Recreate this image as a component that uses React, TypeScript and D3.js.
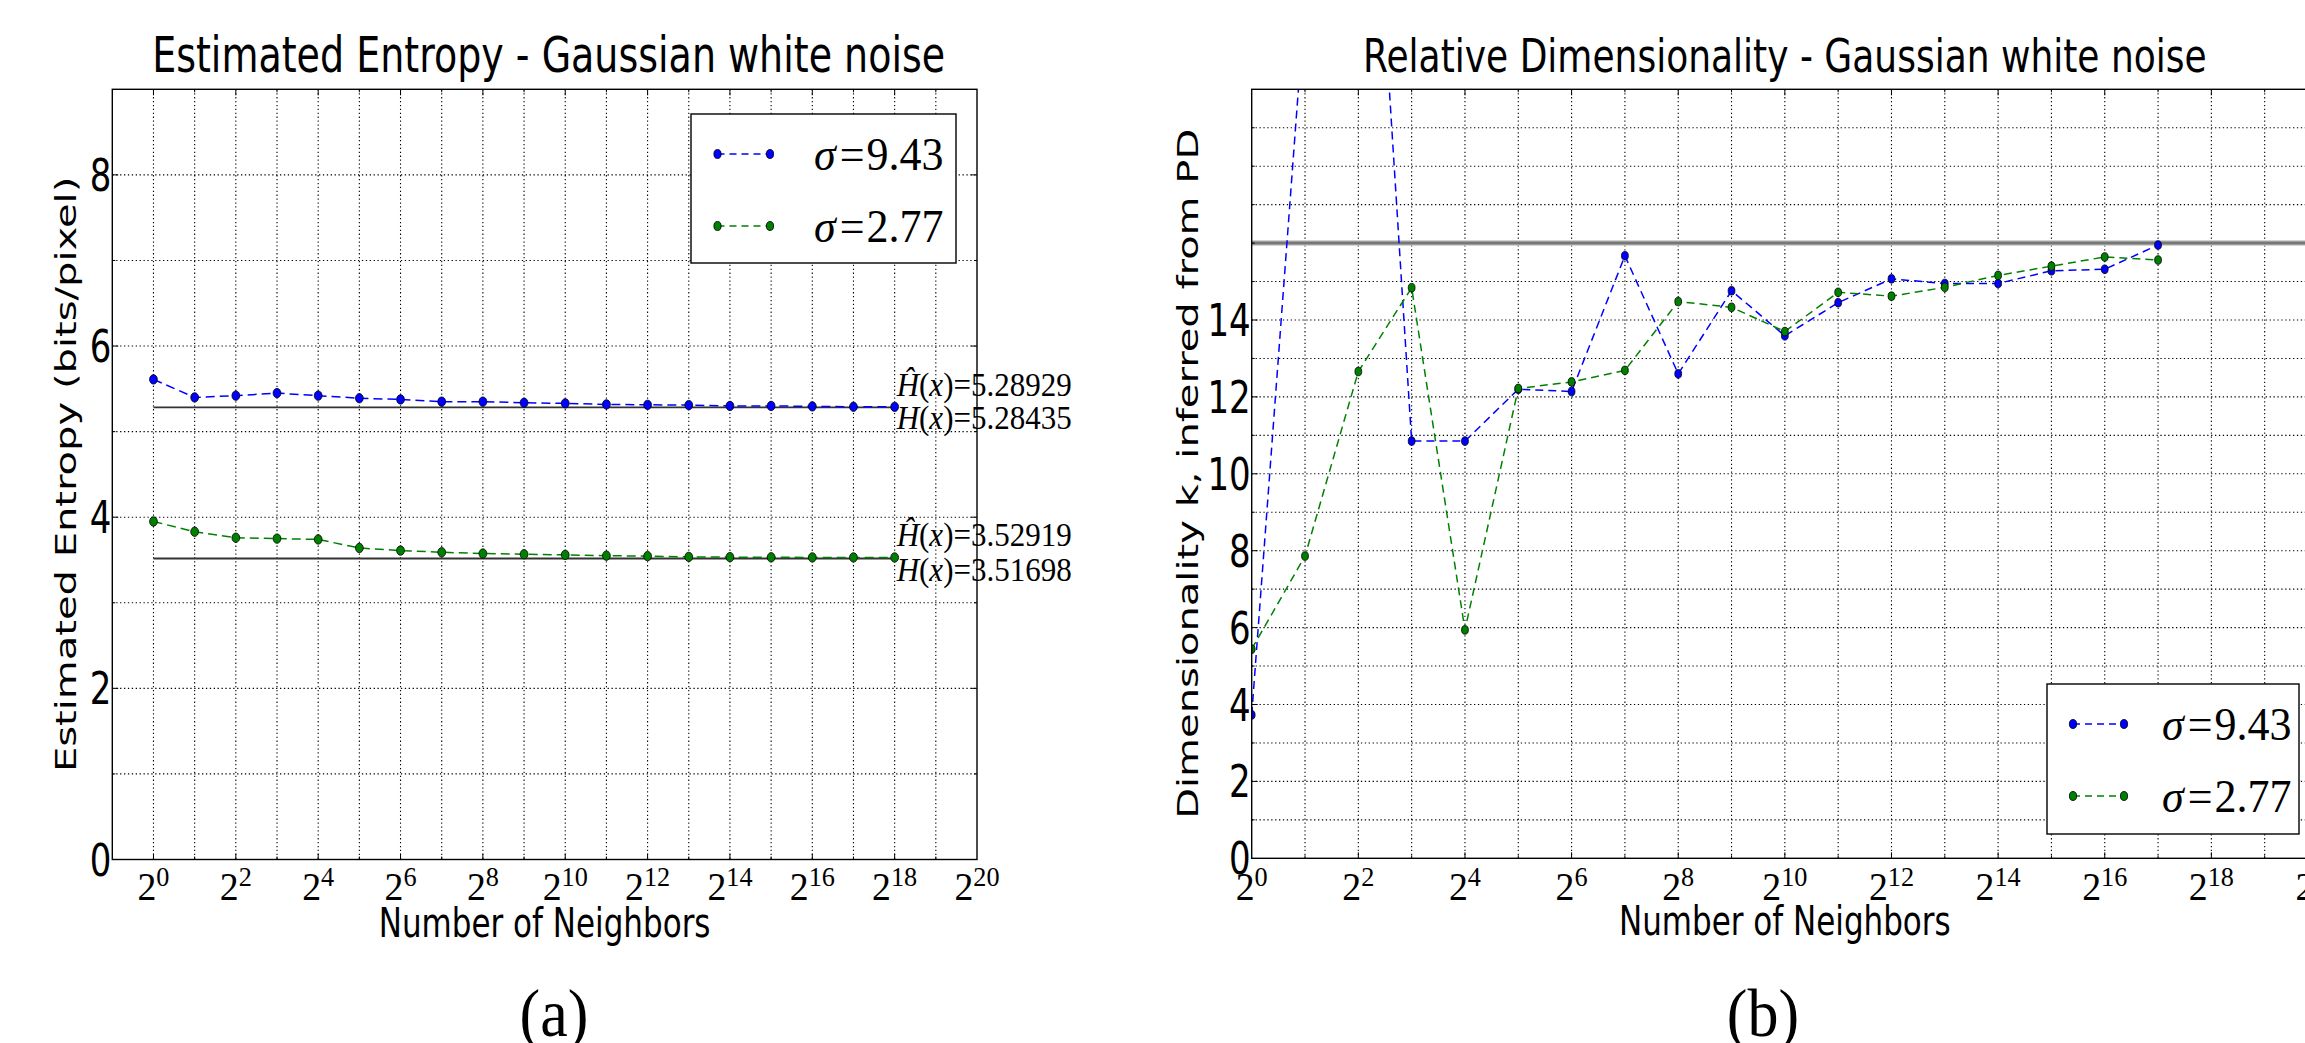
import React from "react";
import * as d3 from "d3";

// ---- data
const NEIGHBORS = [1, 2, 4, 8, 16, 32, 64, 128, 256, 512, 1024, 2048, 4096, 8192, 16384, 32768, 65536, 131072, 262144];

// (a) estimated entropy, bits/pixel
const ENTROPY_943 = [5.61, 5.4, 5.42, 5.45, 5.42, 5.39, 5.376, 5.35, 5.35, 5.337, 5.33, 5.318, 5.313, 5.31, 5.3, 5.3, 5.295, 5.29, 5.28929];
const ENTROPY_277 = [3.95, 3.83, 3.76, 3.75, 3.74, 3.64, 3.61, 3.59, 3.575, 3.567, 3.56, 3.55, 3.545, 3.536, 3.533, 3.531, 3.53, 3.53, 3.52919];
const H_HAT = [5.28929, 3.52919];
const H_TRUE = [5.28435, 3.51698];

// (b) relative dimensionality (first 18 neighbor counts)
const DIM_943 = [3.73, 22.3, 32.7, 10.85, 10.85, 12.2, 12.14, 15.67, 12.6, 14.76, 13.59, 14.45, 15.07, 14.95, 14.95, 15.28, 15.32, 15.95];
const DIM_277 = [5.44, 7.86, 12.66, 14.84, 5.94, 12.22, 12.39, 12.69, 14.48, 14.33, 13.7, 14.72, 14.62, 14.85, 15.16, 15.4, 15.64, 15.56];
const TRUE_DIM = 16;

const SIGMAS = ["9.43", "2.77"];
const COLORS = ["#0000ff", "#008000"];

const X_TICK_EXP = [0, 2, 4, 6, 8, 10, 12, 14, 16, 18, 20];
const Y_TICKS_A = [0, 2, 4, 6, 8];
const Y_TICKS_B = [0, 2, 4, 6, 8, 10, 12, 14];

// ---- look
const K = 1.3; // the original figure is stretched vertically
const SANS = "DejaVu Sans";
const SERIF = "Liberation Serif";

const T = ({ x, y, size, family = SANS, anchor = "start", k = K, sx = 1, rotate = false, children }: any) => (
  <text
    transform={`translate(${x},${y}) scale(${sx},${k})${rotate ? " rotate(-90)" : ""}`}
    fontFamily={family}
    fontSize={size}
    textAnchor={anchor}
    fill="#000"
  >
    {children}
  </text>
);

const Pow2 = ({ x, y, e }: any) => (
  <T x={x} y={y} size={36} family={SERIF} anchor="middle" k={1.1} sx={1.05}>
    2<tspan fontSize={25} dy={-13}>{e}</tspan>
  </T>
);

const Marker = ({ cx, cy, color, rx = 3.6, ry = 4.5 }: any) => (
  <ellipse cx={cx} cy={cy} rx={rx} ry={ry} fill={color} stroke="#000" strokeWidth={0.8} />
);

function Axes({ box, x, y, xExp, yVals, yLabels, id, children }: any) {
  const gx = xExp.filter((e: number) => x(2 ** e) > box.x0 + 1 && x(2 ** e) < box.x1 - 1);
  const gy = yVals.filter((v: number) => y(v) < box.y1 - 1 && y(v) > box.y0 + 1);
  return (
    <g>
      <defs>
        <clipPath id={id}>
          <rect x={box.x0} y={box.y0} width={box.x1 - box.x0} height={box.y1 - box.y0} />
        </clipPath>
      </defs>
      {/* grid */}
      <g stroke="#000" strokeWidth={1.1} strokeDasharray="1.3,2.6">
        {gx.map((e: number) => (
          <line key={"gx" + e} x1={x(2 ** e)} x2={x(2 ** e)} y1={box.y0} y2={box.y1} />
        ))}
        {gy.map((v: number) => (
          <line key={"gy" + v} x1={box.x0} x2={box.x1} y1={y(v)} y2={y(v)} />
        ))}
      </g>
      <g clipPath={`url(#${id})`}>{children}</g>
      {/* ticks */}
      <g stroke="#000" strokeWidth={1}>
        {gx.map((e: number) => {
          const L = e % 2 === 0 ? 6 : 3;
          const px = x(2 ** e);
          return (
            <g key={"tx" + e}>
              <line x1={px} x2={px} y1={box.y1} y2={box.y1 - L} />
              <line x1={px} x2={px} y1={box.y0} y2={box.y0 + L} />
            </g>
          );
        })}
        {gy.map((v: number) => {
          const L = yLabels.includes(v) ? 6 : 3;
          return (
            <g key={"ty" + v}>
              <line x1={box.x0} x2={box.x0 + L} y1={y(v)} y2={y(v)} />
              <line x1={box.x1} x2={box.x1 - L} y1={y(v)} y2={y(v)} />
            </g>
          );
        })}
      </g>
      <rect x={box.x0} y={box.y0} width={box.x1 - box.x0} height={box.y1 - box.y0} fill="none" stroke="#000" strokeWidth={1.4} />
      {/* tick labels */}
      {yLabels.map((v: number) => (
        <T key={"ly" + v} x={box.x0 - 1} y={y(v) + 16} size={34} anchor="end">
          {v}
        </T>
      ))}
      {X_TICK_EXP.map((e) => (
        <Pow2 key={"lx" + e} x={x(2 ** e)} y={900} e={e} />
      ))}
    </g>
  );
}

function Series({ x, y, xs, vals, color, dash, rx, ry }: any) {
  const pts = vals.map((v: number, i: number) => [x(xs[i]), y(v)]);
  const line = d3.line();
  return (
    <g>
      <path d={line(pts) || ""} fill="none" stroke={color} strokeWidth={1.5} strokeDasharray={dash} />
      {pts.map((p: number[], i: number) => (
        <Marker key={i} cx={p[0]} cy={p[1]} color={color} rx={rx} ry={ry} />
      ))}
    </g>
  );
}

function Legend({ x0, y0, w, h, mx1, mx2, rows, tx, tdy, dash }: any) {
  return (
    <g>
      <rect x={x0} y={y0} width={w} height={h} fill="#fff" stroke="#000" strokeWidth={1.4} />
      {SIGMAS.map((s, i) => (
        <g key={s}>
          <line x1={mx1} x2={mx2} y1={rows[i]} y2={rows[i]} stroke={COLORS[i]} strokeWidth={1.5} strokeDasharray={dash} />
          <Marker cx={mx1} cy={rows[i]} color={COLORS[i]} />
          <Marker cx={mx2} cy={rows[i]} color={COLORS[i]} />
          <T x={tx} y={rows[i] + tdy} size={44} family={SERIF} k={1.05}>
            <tspan fontStyle="italic">σ</tspan>
            <tspan dx={4}>=</tspan>
            <tspan dx={2}>{s}</tspan>
          </T>
        </g>
      ))}
    </g>
  );
}

export default function App() {
  // ---- panel (a)
  const boxA = { x0: 112.3, x1: 977, y0: 89.3, y1: 859.5 };
  const xA = d3.scaleLog().base(2).domain([0.5, 2 ** 20]).range([boxA.x0, boxA.x1]);
  const yA = d3.scaleLinear().domain([0, 9]).range([boxA.y1, boxA.y0]);

  // ---- panel (b)
  const boxB = { x0: 1251.7, x1: 2318, y0: 89.3, y1: 858.3 };
  const xB = d3.scaleLog().base(2).domain([1, 2 ** 20]).range([boxB.x0, boxB.x1]);
  const yB = d3.scaleLinear().domain([0, 20]).range([boxB.y1, boxB.y0]);

  const expAll = d3.range(-1, 21);
  const cA = (boxA.x0 + boxA.x1) / 2;
  const cB = (boxB.x0 + boxB.x1) / 2;
  const last = NEIGHBORS[NEIGHBORS.length - 1];

  return (
    <svg width={2305} height={1043} style={{ position: "absolute", left: 0, top: 0, background: "#fff" }}>
      <rect width={2305} height={1043} fill="#fff" />

      {/* (a) Estimated entropy */}
      <Axes box={boxA} x={xA} y={yA} xExp={expAll} yVals={d3.range(0, 10)} yLabels={Y_TICKS_A} id="clipA">
        {H_TRUE.map((h, i) => (
          <line key={"h" + i} x1={xA(1)} x2={xA(last)} y1={yA(h)} y2={yA(h)} stroke="#333" strokeWidth={1.8} />
        ))}
        <Series x={xA} y={yA} xs={NEIGHBORS} vals={ENTROPY_943} color={COLORS[0]} dash="9,5" rx={3.9} ry={4.7} />
        <Series x={xA} y={yA} xs={NEIGHBORS} vals={ENTROPY_277} color={COLORS[1]} dash="9,5" rx={3.9} ry={4.7} />
      </Axes>
      {H_HAT.map((h, i) => (
        <g key={"ann" + i}>
          <T x={xA(last) + 2} y={yA(h) - 11} size={31} family={SERIF} k={1.08}>
            <tspan fontStyle="italic">Ĥ</tspan>(<tspan fontStyle="italic">x</tspan>)=<tspan>{h.toFixed(5)}</tspan>
          </T>
          <T x={xA(last) + 2} y={yA(H_TRUE[i]) + 22} size={31} family={SERIF} k={1.08}>
            <tspan fontStyle="italic">H</tspan>(<tspan fontStyle="italic">x</tspan>)=<tspan>{H_TRUE[i].toFixed(5)}</tspan>
          </T>
        </g>
      ))}
      <Legend x0={691} y0={114} w={265} h={149} mx1={717.5} mx2={770} rows={[154, 226]} tx={814} tdy={16} dash="7,5" />
      <T x={cA + 4} y={72} size={38} anchor="middle">Estimated Entropy - Gaussian white noise</T>
      <T x={cA} y={937} size={31} anchor="middle">Number of Neighbors</T>
      <T x={76} y={(boxA.y0 + boxA.y1) / 2} size={29} anchor="middle" k={1.38} rotate>
        Estimated Entropy (bits/pixel)
      </T>
      <T x={554} y={1036} size={62} family={SERIF} anchor="middle" k={1.08}>(a)</T>

      {/* (b) Relative dimensionality */}
      <Axes box={boxB} x={xB} y={yB} xExp={expAll} yVals={d3.range(0, 21)} yLabels={Y_TICKS_B} id="clipB">
        <line x1={boxB.x0} x2={boxB.x1} y1={yB(TRUE_DIM)} y2={yB(TRUE_DIM)} stroke="#c4c4c4" strokeWidth={5.5} />
        <line x1={boxB.x0} x2={boxB.x1} y1={yB(TRUE_DIM)} y2={yB(TRUE_DIM)} stroke="#777" strokeWidth={3} />
        <Series x={xB} y={yB} xs={NEIGHBORS} vals={DIM_943} color={COLORS[0]} dash="8,5" rx={3.4} ry={4.3} />
        <Series x={xB} y={yB} xs={NEIGHBORS} vals={DIM_277} color={COLORS[1]} dash="8,5" rx={3.4} ry={4.3} />
      </Axes>
      <Legend x0={2047} y0={684} w={252} h={150} mx1={2073} mx2={2124} rows={[724, 796]} tx={2162} tdy={16} dash="7,5" />
      <T x={cB} y={72} size={36} anchor="middle">Relative Dimensionality - Gaussian white noise</T>
      <T x={cB} y={935} size={31} anchor="middle">Number of Neighbors</T>
      <T x={1198} y={(boxB.y0 + boxB.y1) / 2} size={29} anchor="middle" k={1.38} rotate>
        Dimensionality k, inferred from PD
      </T>
      <T x={1763} y={1036} size={62} family={SERIF} anchor="middle" k={1.08}>(b)</T>
    </svg>
  );
}
